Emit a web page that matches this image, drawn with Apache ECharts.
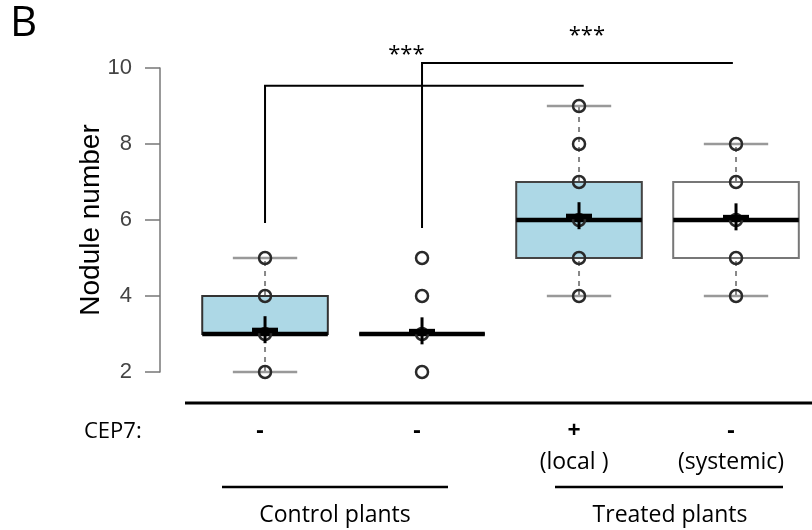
<!DOCTYPE html>
<html>
<head>
<meta charset="utf-8">
<script src="https://cdn.jsdelivr.net/npm/echarts@6/dist/echarts.min.js"></script>
<style>
html,body{margin:0;padding:0;background:#fff;}
#chart{width:812px;height:530px;}
</style>
</head>
<body>
<div id="chart"></div>
<script>
// ---------- DATA ----------
const categories = ['Control 1', 'Control 2', 'Treated local', 'Treated systemic'];
const cep7Labels = ['-', '-', '+', '-'];
const subLabels = ['', '', '(local )', '(systemic)'];
const groupLabels = ['Control plants', 'Treated plants'];
const yTicks = [2, 4, 6, 8, 10];
// [lower whisker, Q1, median, Q3, upper whisker]
const lowWhisker = [2, 3, 4, 4];
const q1 = [3, 3, 5, 5];
const medians = [3, 3, 6, 6];
const q3 = [4, 3, 7, 7];
const highWhisker = [5, 3, 9, 8];
const means = [3.1, 3.07, 6.1, 6.07];
const pointValues = [[2, 3, 4, 5], [2, 3, 4, 5], [4, 5, 6, 7, 8, 9], [4, 5, 6, 7, 8]];
// significance brackets (x in category positions 1..4, y in nodule number)
const bracketFrom = [1, 2];
const bracketTo = [3.03, 3.98];
const bracketBase = [5.92, 5.79];
const bracketTop = [9.53, 10.13];
const sigLabels = ['***', '***'];
const sigX = [1.9, 3.05];
const sigY = [10.36, 10.84];

// ---------- STYLE ----------
const boxFills = ['#ADD8E6', '#ADD8E6', '#ADD8E6', '#FFFFFF'];
const boxBorders = ['#333', '#333', '#444', '#777'];
const BOX_W = 0.80, CAP_W = 0.41;
const FONT_C = '"Open Sans", "Liberation Sans", sans-serif';
const FONT_H = '"Liberation Sans", Arial, sans-serif';

const boxData = categories.map((c, i) => [i + 1, lowWhisker[i], q1[i], medians[i], q3[i], highWhisker[i]]);
const scatterData = [];
pointValues.forEach((arr, i) => arr.forEach(v => scatterData.push([i + 1, v])));
const meanData = means.map((m, i) => [i + 1, m]);
const bracketData = bracketFrom.map((f, i) => [f, bracketTo[i], bracketBase[i], bracketTop[i]]);
const sigData = sigLabels.map((s, i) => [sigX[i], sigY[i], s]);

const chart = echarts.init(document.getElementById('chart'), null, {renderer: 'canvas'});

const option = {
  backgroundColor: '#fff',
  animation: false,
  grid: {left: 160, right: 0, top: 68, bottom: 158},
  xAxis: {type: 'value', min: 0.331, max: 4.484, show: false},
  yAxis: {
    type: 'value', min: 2, max: 10, interval: 2,
    name: 'Nodule number', nameLocation: 'middle', nameRotate: 90, nameGap: 55,
    nameMoveOverlap: false,
    nameTextStyle: {fontFamily: FONT_H, fontSize: 28, color: '#000'},
    axisLine: {show: true, lineStyle: {color: '#777', width: 1.5}},
    axisTick: {show: true, length: 15, lineStyle: {color: '#777', width: 1.5}},
    axisLabel: {margin: 28, fontFamily: FONT_H, fontSize: 22, color: '#444',
      formatter: v => yTicks.indexOf(v) >= 0 ? String(v) : ''},
    splitLine: {show: false}
  },
  series: [
    {
      type: 'custom', z: 2, clip: false,
      data: boxData,
      renderItem: function (params, api) {
        const i = params.dataIndex;
        const x = api.value(0);
        const pLow = api.coord([x, api.value(1)]);
        const pQ1 = api.coord([x, api.value(2)]);
        const pMed = api.coord([x, api.value(3)]);
        const pQ3 = api.coord([x, api.value(4)]);
        const pHigh = api.coord([x, api.value(5)]);
        const xl = api.coord([x - BOX_W / 2, 0])[0];
        const xr = api.coord([x + BOX_W / 2, 0])[0];
        const cl = api.coord([x - CAP_W / 2, 0])[0];
        const cr = api.coord([x + CAP_W / 2, 0])[0];
        const children = [];
        const whiskerStyle = {stroke: '#888', lineWidth: 2, lineDash: [5, 5]};
        const capStyle = {stroke: '#999', lineWidth: 2.5};
        if (api.value(5) > api.value(4)) {
          children.push({type: 'line', shape: {x1: pQ3[0], y1: pQ3[1], x2: pHigh[0], y2: pHigh[1]}, style: whiskerStyle});
          children.push({type: 'line', shape: {x1: cl, y1: pHigh[1], x2: cr, y2: pHigh[1]}, style: capStyle});
        }
        if (api.value(1) < api.value(2)) {
          children.push({type: 'line', shape: {x1: pLow[0], y1: pLow[1], x2: pQ1[0], y2: pQ1[1]}, style: whiskerStyle});
          children.push({type: 'line', shape: {x1: cl, y1: pLow[1], x2: cr, y2: pLow[1]}, style: capStyle});
        }
        children.push({type: 'rect', shape: {x: xl, y: pQ3[1], width: xr - xl, height: pQ1[1] - pQ3[1]},
          style: {fill: boxFills[i], stroke: boxBorders[i], lineWidth: 2}});
        children.push({type: 'line', shape: {x1: xl, y1: pMed[1], x2: xr, y2: pMed[1]},
          style: {stroke: '#000', lineWidth: 4.5}});
        return {type: 'group', children: children};
      }
    },
    {
      type: 'scatter', z: 3,
      data: scatterData,
      symbol: 'circle', symbolSize: 12,
      itemStyle: {color: 'rgba(0,0,0,0)', borderColor: '#2a2a2a', borderWidth: 2.5, opacity: 1}
    },
    {
      type: 'custom', z: 4, clip: false,
      data: meanData,
      renderItem: function (params, api) {
        const p = api.coord([api.value(0), api.value(1)]);
        return {type: 'group', children: [
          {type: 'rect', shape: {x: p[0] - 13, y: p[1] - 2.5, width: 26, height: 5.5}, style: {fill: '#000'}},
          {type: 'rect', shape: {x: p[0] - 1.5, y: p[1] - 14, width: 3, height: 27}, style: {fill: '#000'}}
        ]};
      }
    },
    {
      type: 'custom', z: 5, clip: false,
      data: bracketData,
      renderItem: function (params, api) {
        const a = api.coord([api.value(0), api.value(2)]);
        const b = api.coord([api.value(0), api.value(3)]);
        const c = api.coord([api.value(1), api.value(3)]);
        return {type: 'polyline', shape: {points: [a, b, c]},
          style: {stroke: '#000', lineWidth: 2, fill: null}};
      }
    },
    {
      type: 'custom', z: 5, clip: false,
      data: sigData,
      renderItem: function (params, api) {
        const p = api.coord([api.value(0), api.value(1)]);
        return {type: 'text', x: p[0], y: p[1],
          style: {text: sigLabels[params.dataIndex], fontFamily: FONT_C, fontSize: 22, fill: '#000',
            align: 'center', verticalAlign: 'middle'}};
      }
    }
  ]
};
chart.setOption(option);

const centers = categories.map((c, i) => chart.convertToPixel({xAxisIndex: 0}, i + 1));
const graphics = [
  {type: 'text', left: 10, top: 3, style: {text: 'B', fontFamily: FONT_C, fontSize: 42, fill: '#000'}},
  {type: 'line', shape: {x1: 185, y1: 403, x2: 812, y2: 403}, style: {stroke: '#000', lineWidth: 3}},
  {type: 'text', x: 84, y: 432, style: {text: 'CEP7:', fontFamily: FONT_C, fontSize: 22, fill: '#000', verticalAlign: 'middle'}},
  {type: 'line', shape: {x1: 222, y1: 487, x2: 448, y2: 487}, style: {stroke: '#000', lineWidth: 2.5}},
  {type: 'line', shape: {x1: 555, y1: 487, x2: 783, y2: 487}, style: {stroke: '#000', lineWidth: 2.5}},
  {type: 'text', x: 335, y: 515, style: {text: groupLabels[0], fontFamily: FONT_C, fontSize: 23, fill: '#000', align: 'center', verticalAlign: 'middle'}},
  {type: 'text', x: 670, y: 515, style: {text: groupLabels[1], fontFamily: FONT_C, fontSize: 23, fill: '#000', align: 'center', verticalAlign: 'middle'}}
];
centers.forEach((cx, i) => {
  graphics.push({type: 'text', x: cx - 5, y: 431, style: {text: cep7Labels[i], fontFamily: FONT_C, fontSize: 23, fontWeight: 'bold', fill: '#000', align: 'center', verticalAlign: 'middle'}});
  if (subLabels[i]) {
    graphics.push({type: 'text', x: cx - 5, y: 462, style: {text: subLabels[i], fontFamily: FONT_C, fontSize: 23, fill: '#000', align: 'center', verticalAlign: 'middle'}});
  }
});
chart.setOption({graphic: graphics});
</script>
</body>
</html>
